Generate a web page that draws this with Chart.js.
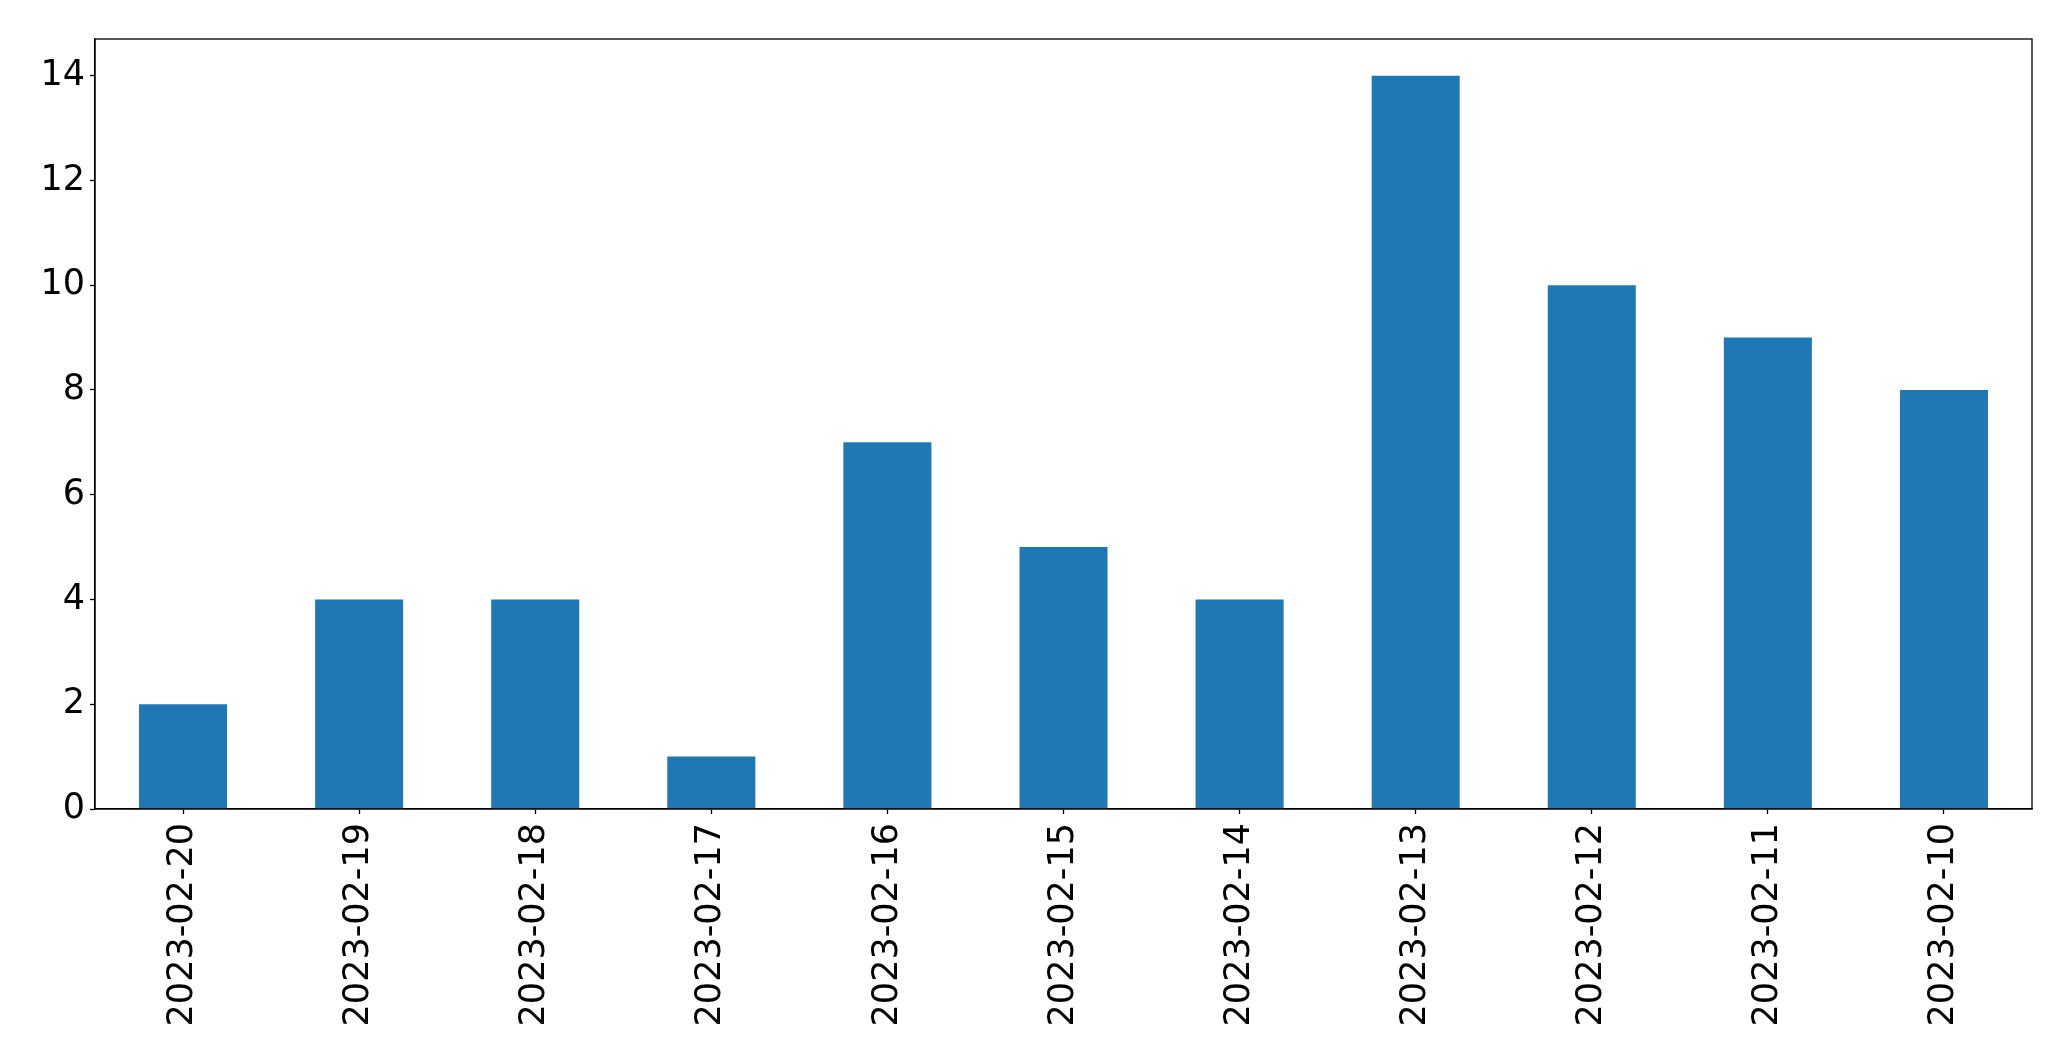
<!DOCTYPE html>
<html>
<head>
<meta charset="utf-8">
<script src="https://cdn.jsdelivr.net/npm/chart.js@4/dist/chart.umd.min.js"></script>
<style>
  html, body { margin: 0; padding: 0; background: #ffffff; }
  #wrap { width: 2071px; height: 1061px; }
</style>
</head>
<body>
<div id="wrap"><canvas id="c" width="2071" height="1061"></canvas></div>
<script>
const categories = ["2023-02-20","2023-02-19","2023-02-18","2023-02-17","2023-02-16","2023-02-15","2023-02-14","2023-02-13","2023-02-12","2023-02-11","2023-02-10"];
const counts = [2, 4, 4, 1, 7, 5, 4, 14, 10, 9, 8];
const yTicks = [0, 2, 4, 6, 8, 10, 12, 14];
const yMax = 14.7;

const framePlugin = {
  id: 'frame',
  afterDraw(chart) {
    const a = chart.chartArea, ctx = chart.ctx;
    ctx.save();
    ctx.strokeStyle = '#000000';
    ctx.lineWidth = 1.3;
    ctx.strokeRect(a.left, a.top, a.right - a.left, a.bottom - a.top);
    ctx.restore();
  }
};

const font = { family: 'DejaVu Sans', size: 35 };

new Chart(document.getElementById('c'), {
  type: 'bar',
  data: {
    labels: categories,
    datasets: [{
      data: counts,
      backgroundColor: '#1f77b4',
      borderWidth: 0,
      categoryPercentage: 1.0,
      barPercentage: 0.5
    }]
  },
  options: {
    responsive: false,
    animation: false,
    devicePixelRatio: 1,
    layout: { padding: { top: 39, right: 39, left: 0, bottom: 0 } },
    plugins: { legend: { display: false }, tooltip: { enabled: false } },
    scales: {
      x: {
        offset: true,
        grid: { display: true, offset: false, drawOnChartArea: false, drawTicks: true, tickLength: 5, tickColor: '#000', tickWidth: 1.3 },
        border: { display: true, color: '#000', width: 1.3 },
        ticks: { color: '#000', font: font, minRotation: 90, maxRotation: 90, padding: 9, autoSkip: false },
        afterFit(s) { s.height = 252; }
      },
      y: {
        min: 0,
        max: yMax,
        afterBuildTicks(s) { s.ticks = yTicks.map(v => ({ value: v })); },
        grid: { display: true, drawOnChartArea: false, drawTicks: true, tickLength: 5, tickColor: '#000', tickWidth: 1.3 },
        border: { display: true, color: '#000', width: 1.3 },
        ticks: { color: '#000', font: font, padding: 5 },
        afterFit(s) { s.width = 95; }
      }
    }
  },
  plugins: [framePlugin]
});
</script>
</body>
</html>
